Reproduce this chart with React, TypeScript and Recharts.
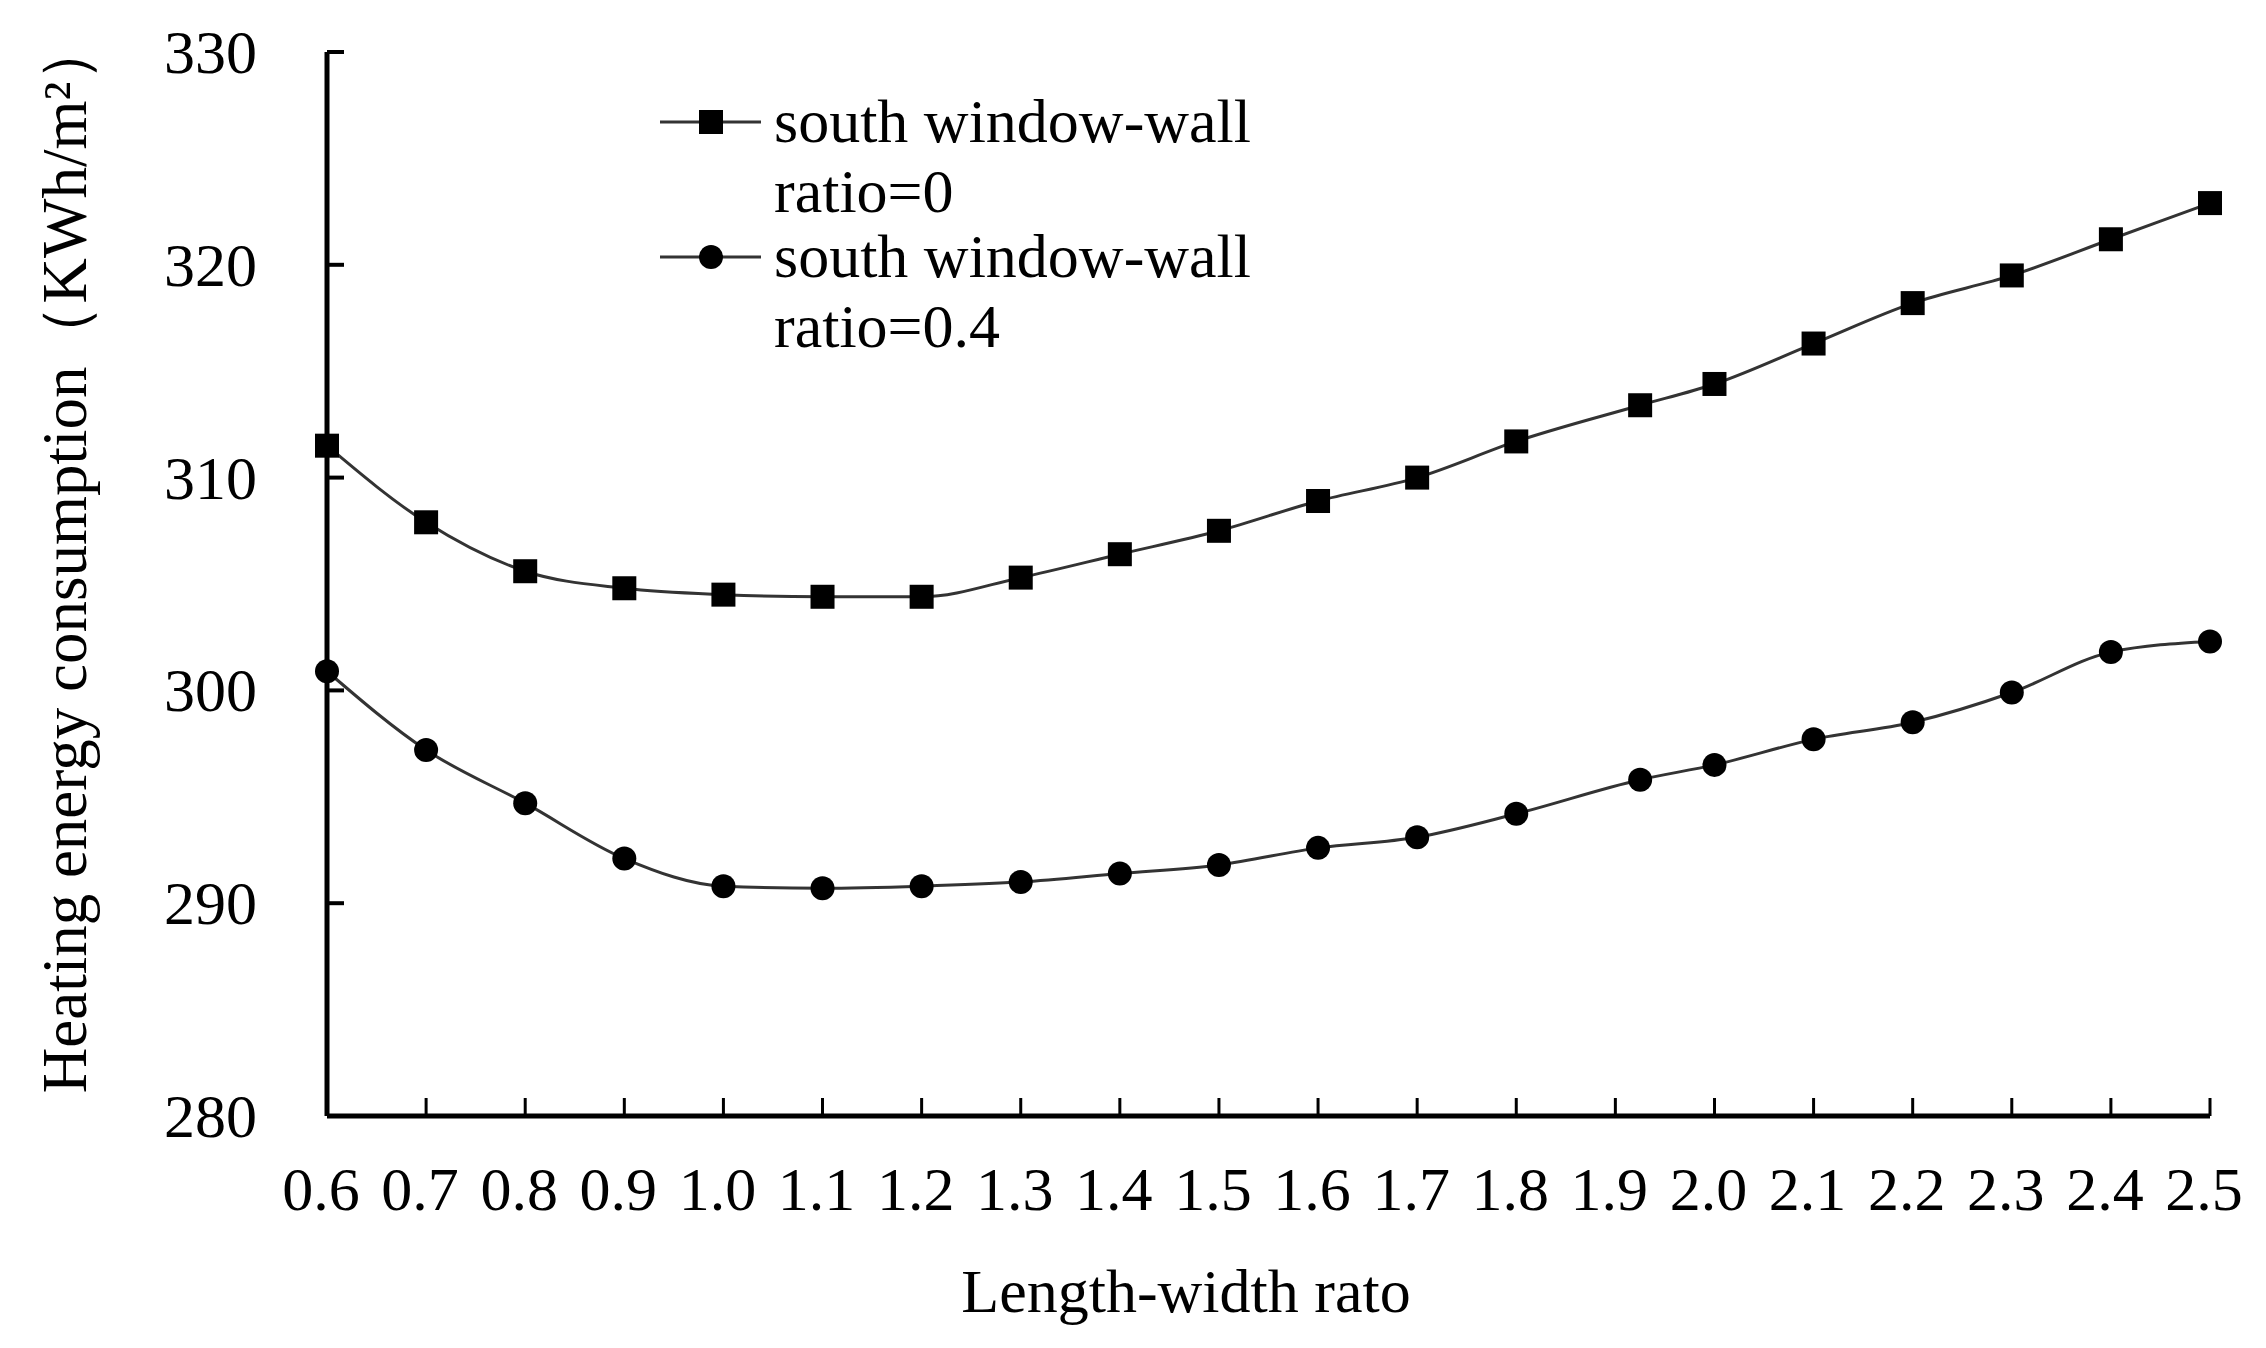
import { LineChart, Line, XAxis, YAxis, Legend } from 'recharts'

const FONT = "'Times New Roman', 'Liberation Serif', serif"

// length-width ratio (the 1.9 point sits a bit right of its tick in the original)
const ratioPoints = [0.6, 0.7, 0.8, 0.9, 1.0, 1.1, 1.2, 1.3, 1.4, 1.5, 1.6, 1.7, 1.8, 1.925, 2.0, 2.1, 2.2, 2.3, 2.4, 2.5]
const ratioTicks = [0.6, 0.7, 0.8, 0.9, 1.0, 1.1, 1.2, 1.3, 1.4, 1.5, 1.6, 1.7, 1.8, 1.9, 2.0, 2.1, 2.2, 2.3, 2.4, 2.5]

// heating energy consumption, KWh/m²
const wwr0 = [311.5, 307.9, 305.6, 304.8, 304.5, 304.4, 304.4, 305.3, 306.4, 307.5, 308.9, 310.0, 311.7, 313.4, 314.4, 316.3, 318.2, 319.5, 321.2, 322.9]
const wwr04 = [300.9, 297.2, 294.7, 292.1, 290.8, 290.7, 290.8, 291.0, 291.4, 291.8, 292.6, 293.1, 294.2, 295.8, 296.5, 297.7, 298.5, 299.9, 301.8, 302.3]

const yTicks = [280, 290, 300, 310, 320, 330]

const seriesNames = ['south window-wall ratio=0', 'south window-wall ratio=0.4']

const data = ratioPoints.map((x, i) => ({ x, a: wwr0[i], b: wwr04[i] }))

function XTick({ x, y, payload }: any) {
  return (
    <g>
      <line x1={x} y1={y} x2={x} y2={y - 18} stroke="#000" strokeWidth={3} />
      <text x={x - 6} y={y + 94} textAnchor="middle" fontSize={62} fontFamily={FONT} fill="#000">
        {Number(payload.value).toFixed(1)}
      </text>
    </g>
  )
}

function YTick({ x, y, payload }: any) {
  return (
    <g>
      <line x1={x} y1={y} x2={x + 17} y2={y} stroke="#000" strokeWidth={4} />
      <text x={x - 70} y={y + 21} textAnchor="end" fontSize={62} fontFamily={FONT} fill="#000">
        {payload.value}
      </text>
    </g>
  )
}

function XTitle() {
  return (
    <text x={1186} y={1312} textAnchor="middle" fontSize={62} fontFamily={FONT} fill="#000">
      Length-width rato
    </text>
  )
}

function YTitle() {
  return (
    <text
      x={86}
      y={556}
      transform="rotate(-90, 86, 556)"
      textAnchor="middle"
      fontSize={63}
      fontFamily={FONT}
      fill="#000"
    >
      Heating energy consumption（KWh/m²）
    </text>
  )
}

const SquareDot = (props: any) => {
  const { cx, cy, index } = props
  return <rect key={`sq-${index}`} x={cx - 12} y={cy - 12} width={24} height={24} fill="#000" />
}

function LegendBox() {
  // two entries, each label wraps onto two lines like the original
  const rows = [
    { y: 42, marker: 'square', lines: ['south window-wall', 'ratio=0'] },
    { y: 177, marker: 'circle', lines: ['south window-wall', 'ratio=0.4'] },
  ]
  return (
    <svg width={720} height={300}>
      {rows.map((r, i) => (
        <g key={seriesNames[i]}>
          <line x1={10} y1={r.y} x2={111} y2={r.y} stroke="#333" strokeWidth={3} />
          {r.marker === 'square' ? (
            <rect x={49} y={r.y - 12} width={24} height={24} fill="#000" />
          ) : (
            <circle cx={61} cy={r.y} r={12} fill="#000" />
          )}
          <text x={124} y={r.y + 20} fontSize={62} fontFamily={FONT} fill="#000">
            {r.lines[0]}
          </text>
          <text x={124} y={r.y + 90} fontSize={62} fontFamily={FONT} fill="#000">
            {r.lines[1]}
          </text>
        </g>
      ))}
    </svg>
  )
}

export default function App() {
  return (
    <div style={{ position: 'absolute', left: 0, top: 0, background: '#fff' }}>
      <LineChart
        width={2266}
        height={1348}
        data={data}
        margin={{ top: 52, right: 56, bottom: 172, left: 227 }}
      >
        <XAxis
          dataKey="x"
          type="number"
          domain={[0.6, 2.5]}
          ticks={ratioTicks}
          interval={0}
          height={60}
          tickSize={0}
          tickMargin={0}
          tickLine={false}
          axisLine={{ stroke: '#000', strokeWidth: 5 }}
          tick={<XTick />}
          label={<XTitle />}
        />
        <YAxis
          type="number"
          domain={[280, 330]}
          ticks={yTicks}
          interval={0}
          width={100}
          tickSize={0}
          tickMargin={0}
          tickLine={false}
          axisLine={{ stroke: '#000', strokeWidth: 5 }}
          tick={<YTick />}
          label={<YTitle />}
        />
        <Legend
          layout="vertical"
          align="center"
          verticalAlign="middle"
          wrapperStyle={{ left: 650, top: 80, width: 720, height: 300 }}
          content={() => <LegendBox />}
        />
        <Line
          name={seriesNames[0]}
          dataKey="a"
          type="monotone"
          stroke="#333"
          strokeWidth={3}
          dot={SquareDot}
          activeDot={false}
          isAnimationActive={false}
        />
        <Line
          name={seriesNames[1]}
          dataKey="b"
          type="monotone"
          stroke="#333"
          strokeWidth={3}
          dot={{ r: 12, fill: '#000', stroke: 'none' }}
          activeDot={false}
          isAnimationActive={false}
        />
      </LineChart>
    </div>
  )
}
